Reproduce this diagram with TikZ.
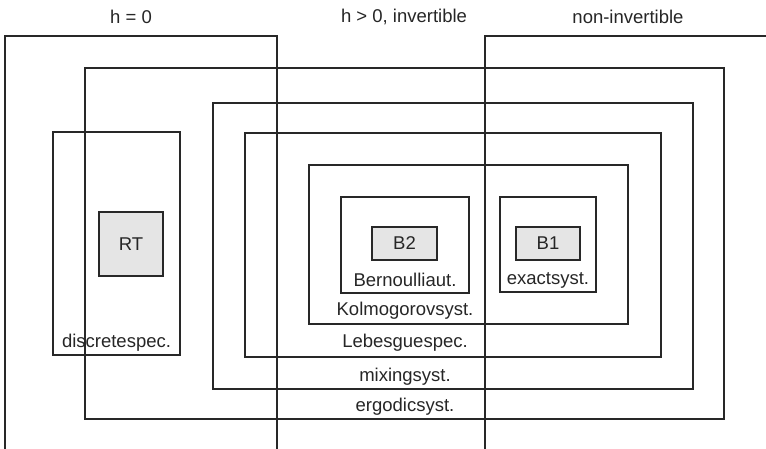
\documentclass[tikz,border=0pt]{standalone}
\usepackage{fontspec}
\setmainfont{Liberation Sans}
\usepackage{xcolor}
\usepackage{tikz}
\usetikzlibrary{positioning}
\definecolor{linecolor}{RGB}{40,40,40}
\definecolor{corecolor}{RGB}{229,229,229}
\begin{document}
\begin{tikzpicture}[
    x=1pt, y=-1pt,
    region/.style={draw=linecolor, line width=1.1pt, inner sep=0pt, outer sep=0pt},
    core/.style={region, fill=corecolor},
    label/.style={font=\fontsize{18.5}{22}\selectfont, inner sep=0pt, text=black!85}
]
    \useasboundingbox (0,0) rectangle (766,449);

    % Entropy columns
    \coordinate (zeroBL) at (5,449);
    \coordinate (zeroTL) at (5,36);
    \coordinate (zeroTR) at (277,36);
    \coordinate (zeroBR) at (277,449);
    \draw[linecolor, line width=1.1pt] (zeroBL) -- (zeroTL) -- (zeroTR) -- (zeroBR);

    \coordinate (nonBL) at (485,449);
    \coordinate (nonTL) at (485,36);
    \coordinate (nonTR) at (768,36);
    \draw[linecolor, line width=1.1pt] (nonBL) -- (nonTL) -- (nonTR);

    \node[label] (zeroLbl) at (131,17) {h = 0};
    \node[label] (posLbl) at (404,17) {h > 0, invertible};
    \node[label] (nonLbl) at (628,17) {non-invertible};

    % Nested classes
    \node[region, minimum width=639pt, minimum height=351pt] (ergodic) at (404.5,243.5) {};
    \node[region, minimum width=480pt, minimum height=286pt] (mixing) at (453,246) {};
    \node[region, minimum width=416pt, minimum height=224pt] (lebesgue) at (453,245) {};
    \node[region, minimum width=319pt, minimum height=159pt] (kolmogorov) at (468.5,244.5) {};
    \node[region, minimum width=127pt, minimum height=223pt] (discrete) at (116.5,243.5) {};
    \node[region, minimum width=128pt, minimum height=96pt] (bernoulli) at (405,245) {};
    \node[region, minimum width=96pt, minimum height=95pt] (exact) at (548,244.5) {};

    % Examples
    \node[core, minimum width=64pt, minimum height=64pt, label] (rt) at (131,244) {RT};
    \node[core, minimum width=65pt, minimum height=33pt, label] (b2) at (404.5,243.5) {B2};
    \node[core, minimum width=64pt, minimum height=33pt, label] (b1) at (548,243.5) {B1};

    % Class names
    \node[label] (discreteLbl) at (116.5,343) {discretespec.};
    \node[label] (bernoulliLbl) at (405,280) {Bernoulliaut.};
    \node[label] (exactLbl) at (548,280) {exactsyst.};
    \node[label] (kolmogorovLbl) at (405,311) {Kolmogorovsyst.};
    \node[label] (lebesgueLbl) at (405,343) {Lebesguespec.};
    \node[label] (mixingLbl) at (405,377) {mixingsyst.};
    \node[label] (ergodicLbl) at (405,407) {ergodicsyst.};
\end{tikzpicture}
\end{document}
